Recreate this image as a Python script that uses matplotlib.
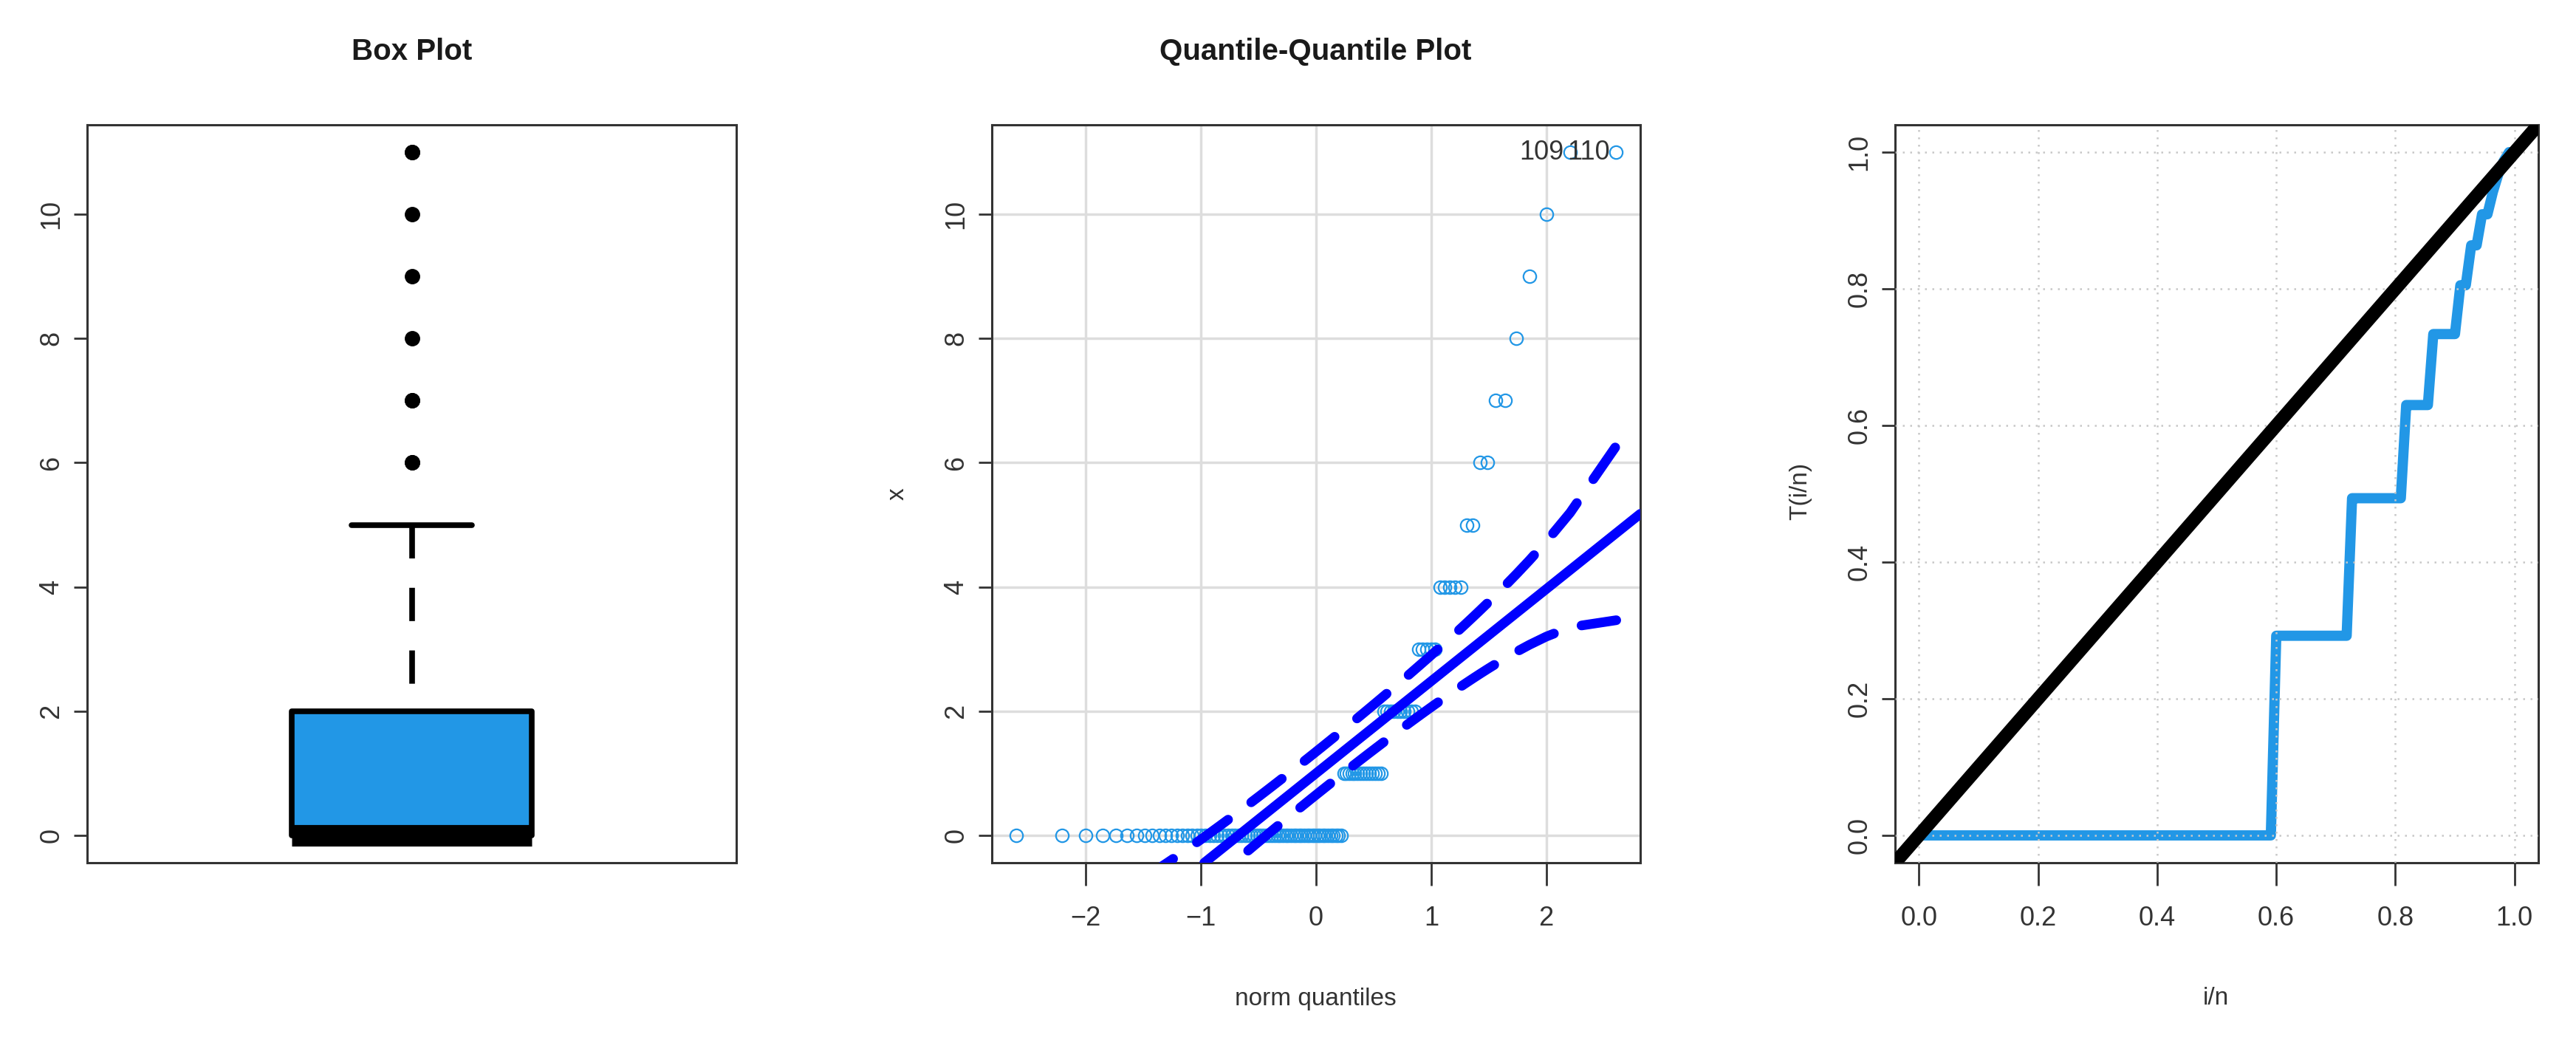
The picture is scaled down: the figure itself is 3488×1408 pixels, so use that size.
import numpy as np
import matplotlib
matplotlib.use('Agg')
import matplotlib.pyplot as plt
from matplotlib import font_manager
from statistics import NormalDist

# sample of n = 110 counts, given as value -> frequency
values = [0, 1, 2, 3, 4, 5, 6, 7, 8, 9, 10, 11]
counts = [65, 14, 10, 5, 5, 2, 2, 2, 1, 1, 1, 2]
id_labels = ['109', '110']

box_yticks = [0, 2, 4, 6, 8, 10]
qq_xticks = [-2, -1, 0, 1, 2]
ttt_ticks = [0.0, 0.2, 0.4, 0.6, 0.8, 1.0]
ttt_ticklabels = ['0.0', '0.2', '0.4', '0.6', '0.8', '1.0']

fill_col = '#2297E6'
line_col = '#0000FF'
txt_col = '#333333'

names = {f.name for f in font_manager.fontManager.ttflist}
if 'Liberation Sans Narrow' in names:
    fam = 'Liberation Sans Narrow'
    tick_fs, lab_fs, title_fs = 30, 28, 35
else:
    fam = 'Liberation Sans'
    tick_fs, lab_fs, title_fs = 26, 24, 29
plt.rcParams['font.family'] = fam

W, H = 3488, 1408
fig = plt.figure(figsize=(W / 100, H / 100), dpi=100)


def px_rect(l, t, r, b):
    return [l / W, 1 - b / H, (r - l) / W, (b - t) / H]


def r_lim(lo, hi):
    pad = 0.04 * (hi - lo)
    return lo - pad, hi + pad


def style(ax):
    for s in ax.spines.values():
        s.set_color(txt_col)
        s.set_linewidth(2.2)
    ax.tick_params(axis='y', length=13, width=2, color=txt_col, labelsize=tick_fs,
                   labelcolor=txt_col, pad=9, labelrotation=90)
    ax.tick_params(axis='x', length=22, width=2, color=txt_col, labelsize=tick_fs,
                   labelcolor=txt_col, pad=20)
    for lab in ax.get_yticklabels():
        lab.set_va('center')


ax1 = fig.add_axes(px_rect(118, 169, 997, 1168))
ax2 = fig.add_axes(px_rect(1343, 169, 2221, 1168))
ax3 = fig.add_axes(px_rect(2566, 169, 3437, 1168))

x = np.repeat(values, counts)
xs = np.sort(x)
n = len(xs)

# --- box plot
bp = ax1.boxplot(x, positions=[1], widths=0.37, capwidths=0.185, patch_artist=True, whis=1.5,
                 boxprops=dict(facecolor=fill_col, edgecolor='black', linewidth=5.5),
                 medianprops=dict(color='black', linewidth=21, solid_capstyle='butt'),
                 whiskerprops=dict(color='black', linewidth=5.5, linestyle=(0, (5.9, 5.2))),
                 capprops=dict(color='black', linewidth=5.5, solid_capstyle='round'),
                 flierprops=dict(marker='o', markerfacecolor='black', markeredgecolor='black',
                                 markersize=14))
bp['boxes'][0].set_joinstyle('round')
# R draws the dashes starting from the staple
w = bp['whiskers'][1]
w.set_ydata(w.get_ydata()[::-1])
ax1.set_xlim(0.5, 1.5)
ax1.set_ylim(*r_lim(xs.min(), xs.max()))
ax1.set_xticks([])
ax1.set_yticks(box_yticks)
style(ax1)

# --- normal QQ plot with 95% envelope
nd = NormalDist()
P = (np.arange(1, n + 1) - 0.5) / n
z = np.array([nd.inv_cdf(p) for p in P])
q1, q3 = np.percentile(xs, [25, 75])
z1, z3 = nd.inv_cdf(0.25), nd.inv_cdf(0.75)
slope = (q3 - q1) / (z3 - z1)
inter = q1 - slope * z1
dens = np.exp(-z ** 2 / 2) / np.sqrt(2 * np.pi)
se = slope / dens * np.sqrt(P * (1 - P) / n)
zz = nd.inv_cdf(0.975)
fitv = inter + slope * z
upper = fitv + zz * se
lower = fitv - zz * se

ax2.set_axisbelow(True)
ax2.grid(True, color='#DDDDDD', lw=2.5)
ax2.plot(z, xs, 'o', ms=12.5, mfc='none', mec=fill_col, mew=1.6, zorder=2)
ax2.axline((0, inter), slope=slope, color=line_col, lw=9.4, solid_capstyle='round', zorder=3)
for env in (upper, lower):
    ax2.plot(z, env, color=line_col, lw=9.4, ls=(0, (4, 3)), dash_capstyle='round', zorder=3)
for k, lab in zip([n - 2, n - 1], id_labels):
    ax2.annotate(lab, (z[k], xs[k]), xytext=(-6, 0), textcoords='offset points',
                 ha='right', va='center', fontsize=tick_fs, color=txt_col, zorder=4)
ax2.set_xlim(*r_lim(z.min(), z.max()))
ax2.set_ylim(*r_lim(xs.min(), xs.max()))
ax2.set_xticks(qq_xticks)
ax2.set_yticks(box_yticks)
style(ax2)

# --- TTT plot
total = xs.sum()
i = np.arange(1, n + 1)
T = (np.cumsum(xs) + (n - i) * xs) / total
tx = np.concatenate([[0], i / n])
ty = np.concatenate([[0], T])
ax3.set_axisbelow(False)
ax3.plot(tx, ty, color=fill_col, lw=10, solid_joinstyle='round', solid_capstyle='round', zorder=2)
ax3.grid(True, color='#C8C8C8', lw=1.8, ls=(0, (1, 3)))
ax3.axline((0, 0), slope=1, color='black', lw=13, zorder=3)
ax3.set_xlim(*r_lim(0, 1))
ax3.set_ylim(*r_lim(0, 1))
ax3.set_xticks(ttt_ticks, ttt_ticklabels)
ax3.set_yticks(ttt_ticks, ttt_ticklabels)
style(ax3)

# --- titles and axis labels
fig.text(558 / W, 1 - 70 / H, 'Box Plot', ha='center', va='center', fontsize=title_fs,
         fontweight='bold', color='#1a1a1a')
fig.text(1781 / W, 1 - 70 / H, 'Quantile-Quantile Plot', ha='center', va='center',
         fontsize=title_fs, fontweight='bold', color='#1a1a1a')
fig.text(1781 / W, 1 - 1352 / H, 'norm quantiles', ha='center', va='center',
         fontsize=lab_fs, color=txt_col)
fig.text(1215 / W, 1 - 669 / H, 'x', ha='center', va='center', rotation=90,
         fontsize=lab_fs, color=txt_col)
fig.text(3000 / W, 1 - 1352 / H, 'i/n', ha='center', va='center', fontsize=lab_fs, color=txt_col)
fig.text(2438 / W, 1 - 665 / H, 'T(i/n)', ha='center', va='center', rotation=90,
         fontsize=lab_fs, color=txt_col)

fig.savefig('out.png', dpi=100)
